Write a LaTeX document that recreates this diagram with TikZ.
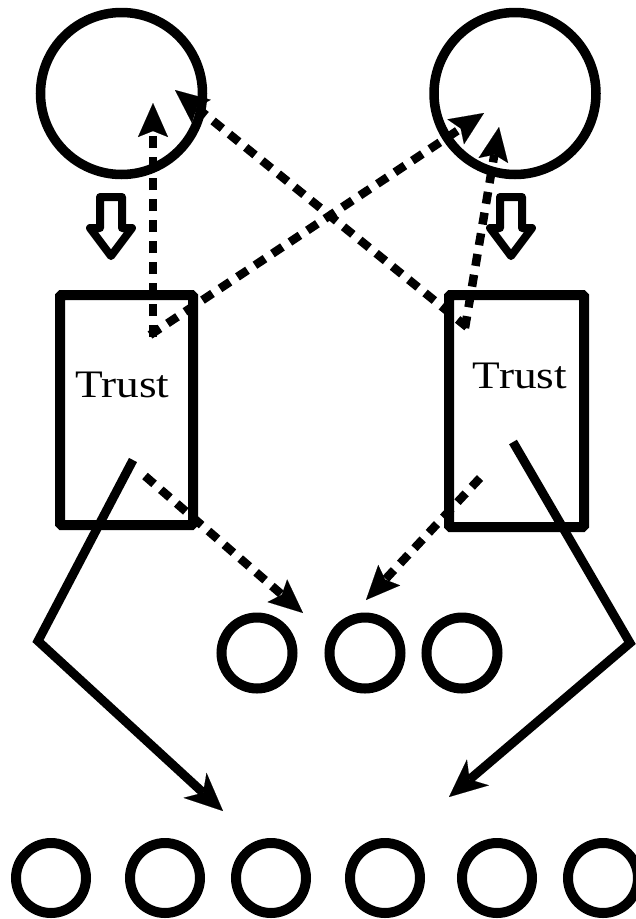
\documentclass[tikz,border=0pt]{standalone}
\usepackage{fontspec}
\usepackage{graphicx}
\setmainfont{Liberation Serif}
\usetikzlibrary{arrows.meta}
\begin{document}
\begin{tikzpicture}[x=1pt,y=-1pt,
  bigcirc/.style={draw,circle,line width=9.5pt,inner sep=0pt,minimum size=162pt},
  smallcirc/.style={draw,circle,line width=10pt,inner sep=0pt,minimum size=71pt},
  trustbox/.style={draw,rectangle,line width=10pt,rounded corners=1.5pt,inner sep=0pt},
  dasharrow/.style={line width=8.5pt,dash pattern=on 12pt off 9pt,
     -{Stealth[length=34pt,width=30pt,inset=6pt,line width=0.1pt]}},
  solidarrow/.style={line width=9pt,miter limit=10,
     -{Stealth[length=38pt,width=34pt,inset=11pt,line width=0.1pt]}},
  hollowarrow/.style={draw,line width=8pt,line join=round},
  trustlabel/.style={anchor=base,inner sep=0pt}
]
\useasboundingbox (0,0) rectangle (636,919);

% top circles
\node[bigcirc] (cl) at (121.5,93.5) {};
\node[bigcirc] (cr) at (515,93.5) {};

% hollow arrows
\path[hollowarrow] (100,197) -- (122,197) -- (122,228) -- (132,228) -- (111,256) -- (90,228) -- (100,228) -- cycle;
\path[hollowarrow] (500,197) -- (522,197) -- (522,228) -- (532,228) -- (511,256) -- (490,228) -- (500,228) -- cycle;

% trust boxes
\node[trustbox,minimum width=133pt,minimum height=230pt] (tl) at (126.5,410) {};
\node[trustbox,minimum width=135pt,minimum height=232pt] (tr) at (516.5,411) {};
\node[trustlabel] (tlt) at (122.5,397) {\resizebox{94pt}{25.5pt}{Trust}};
\node[trustlabel] (trt) at (520,388) {\resizebox{94pt}{25.5pt}{Trust}};

% middle circles
\node[smallcirc] (m1) at (257,653) {};
\node[smallcirc] (m2) at (365,653) {};
\node[smallcirc] (m3) at (462,653) {};

% bottom circles
\foreach \i/\x in {1/51,2/165,3/271,4/385,5/497,6/603}
  \node[smallcirc,minimum size=70pt] (b\i) at (\x,878) {};

% connector end points
\coordinate (a0) at (153,337);
\coordinate (a1) at (153,103);
\coordinate (b0) at (150,335);
\coordinate (b1) at (484,113);
\coordinate (c0) at (467,327);
\coordinate (c1) at (175,90);
\coordinate (d0) at (465,328);
\coordinate (d1) at (499,127);
\coordinate (e0) at (145,476);
\coordinate (e1) at (303,613);
\coordinate (f0) at (480,478);
\coordinate (f1) at (366,600);
\coordinate (g0) at (133,460);
\coordinate (g1) at (38,641);
\coordinate (g2) at (223,811);
\coordinate (h0) at (513,442);
\coordinate (h1) at (630,643);
\coordinate (h2) at (449,797);

% dashed arrows
\draw[dasharrow] (a0) -- (a1);
\draw[dasharrow] (b0) -- (b1);
\draw[dasharrow] (c0) -- (c1);
\draw[dasharrow] (d0) -- (d1);
\draw[dasharrow] (e0) -- (e1);
\draw[dasharrow] (f0) -- (f1);

% solid arrows
\draw[solidarrow] (g0) -- (g1) -- (g2);
\draw[solidarrow] (h0) -- (h1) -- (h2);
\end{tikzpicture}
\end{document}
